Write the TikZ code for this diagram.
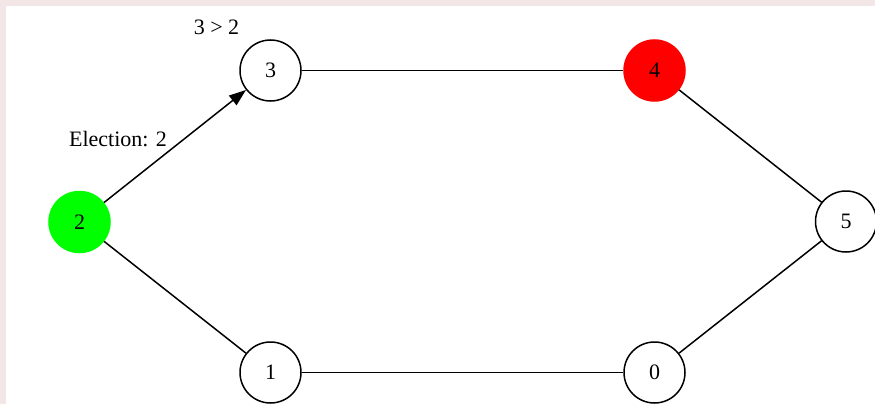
\documentclass[tikz,border=0pt]{standalone}
\usepackage{fontspec}
\setmainfont{Liberation Serif}
\usetikzlibrary{arrows.meta}
\definecolor{framepink}{RGB}{242,230,230}
\definecolor{leadgreen}{RGB}{0,255,0}
\definecolor{candred}{RGB}{255,0,0}
\begin{document}
\begin{tikzpicture}[x=1pt, y=-1pt,
  proc/.style={circle, draw=black, line width=1.5pt, fill=white, minimum size=61pt, inner sep=0pt, font=\fontsize{22}{26}\selectfont},
  link/.style={line width=1.5pt},
  msg/.style={link, -{Triangle[length=17pt,width=12pt]}},
  note/.style={font=\fontsize{22}{26}\selectfont, inner sep=0pt}]
\useasboundingbox (0,0) rectangle (875,404);
\fill[framepink] (0,0) rectangle (875,404);
\fill[white] (6,6) rectangle (875,404);
% ring of processes
\node[proc] (p3) at (270.5,70.5) {3};
\node[proc, draw=candred, fill=candred] (p4) at (654.5,70.5) {4};
\node[proc, draw=leadgreen, fill=leadgreen] (p2) at (79.5,222) {2};
\node[proc] (p5) at (846,221.5) {5};
\node[proc] (p1) at (270.5,372.5) {1};
\node[proc] (p0) at (654.5,372.5) {0};
\draw[msg] (p2) -- (p3);
\draw[link] (p3) -- (p4);
\draw[link] (p4) -- (p5);
\draw[link] (p5) -- (p0);
\draw[link] (p0) -- (p1);
\draw[link] (p1) -- (p2);
% labels
\node[note] (cmp) at (216.5,27) {3 > 2};
\node[note] (elect) at (118,139) {Election: 2};
\end{tikzpicture}
\end{document}
